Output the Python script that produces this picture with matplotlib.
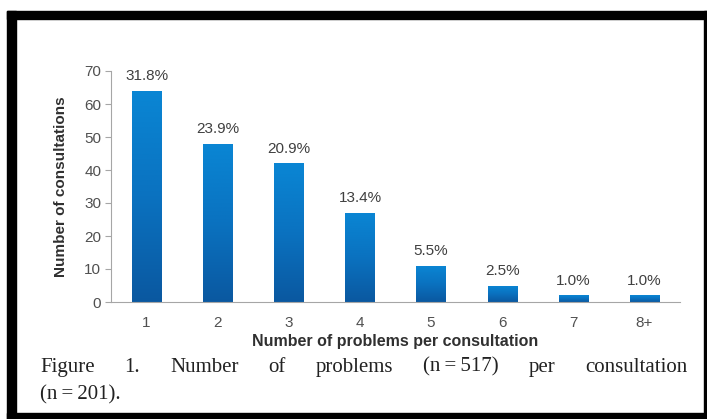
import matplotlib.pyplot as plt
import numpy as np
from matplotlib.colors import LinearSegmentedColormap
from matplotlib.patches import Rectangle

# data
categories = ["1", "2", "3", "4", "5", "6", "7", "8+"]
counts = [64, 48, 42, 27, 11, 5, 2, 2]
percents = ["31.8%", "23.9%", "20.9%", "13.4%", "5.5%", "2.5%", "1.0%", "1.0%"]
caption_line1 = "Figure 1. Number of problems (n\u2009=\u2009517) per consultation"
caption_line2 = "(n\u2009=\u2009201)."

W, H = 707, 419
fig = plt.figure(figsize=(W / 100, H / 100), dpi=100)
fig.patch.set_facecolor("white")

ax = fig.add_axes([111 / W, 117 / H, 569 / W, 231 / H])
x = np.arange(len(categories))
bars = ax.bar(x, counts, width=0.41, color="none", edgecolor="none", zorder=2)

# gradient fill for each bar
cmap = LinearSegmentedColormap.from_list("bluegrad", ["#0b58a0", "#0a72c0", "#0a86d4"])
grad = np.linspace(0, 1, 256).reshape(-1, 1)
for b in bars:
    x0, y0 = b.get_x(), b.get_y()
    im = ax.imshow(grad, cmap=cmap, origin="lower", aspect="auto",
                   extent=(x0, x0 + b.get_width(), y0, y0 + b.get_height()), zorder=2)
    im.set_clip_path(b)

for xi, c, p in zip(x, counts, percents):
    ax.annotate(p, (xi, c), xytext=(0, 10.5), textcoords="offset points",
                ha="center", va="center", fontsize=11, color="#404040",
                fontfamily="Liberation Sans")

ax.set_xlim(-0.5, len(categories) - 0.5)
ax.set_ylim(0, 70)
ax.set_yticks(range(0, 71, 10))
ax.set_xticks(x)
ax.set_xticklabels(categories)
for s in ["top", "right"]:
    ax.spines[s].set_visible(False)
ax.spines["left"].set_color("#a6a6a6")
ax.spines["bottom"].set_color("#a6a6a6")
ax.tick_params(axis="y", length=4, color="#a6a6a6", labelsize=11, labelcolor="#505050", pad=3)
ax.tick_params(axis="x", length=0, labelsize=11, labelcolor="#505050", pad=10)
for lab in ax.get_xticklabels() + ax.get_yticklabels():
    lab.set_fontfamily("Liberation Sans")

ax.set_xlabel("Number of problems per consultation", fontsize=11.5, fontweight="bold",
              color="#303030", fontfamily="Liberation Sans", labelpad=3)
ax.set_ylabel("Number of consultations", fontsize=11, fontweight="bold",
              color="#303030", fontfamily="Liberation Sans", labelpad=12)

# caption, first line justified between x=40 and x=688 px
serif = ["Liberation Serif", "DejaVu Serif"]
words = caption_line1.split(" ")
texts = [fig.text(0, 1 - 367 / H, w, ha="left", va="center", fontsize=15,
                  fontfamily=serif, color="#222222") for w in words]
fig.canvas.draw()
r = fig.canvas.get_renderer()
widths = [t.get_window_extent(r).width for t in texts]
gap = (688 - 40 - sum(widths)) / (len(words) - 1)
pos = 40
for t, wd in zip(texts, widths):
    t.set_x(pos / W)
    pos += wd + gap
fig.text(40 / W, 1 - 395 / H, caption_line2, ha="left", va="center", fontsize=15,
         fontfamily=serif, color="#222222")

# black frame
frame = [(7, 11, 700, 8), (7, 11, 9, 408), (704, 11, 3, 408), (7, 413, 700, 6)]
for fx, fy, fw, fh in frame:
    fig.patches.append(Rectangle((fx / W, 1 - (fy + fh) / H), fw / W, fh / H,
                                 transform=fig.transFigure, color="black", zorder=10))

fig.savefig("out.png", dpi=100)
